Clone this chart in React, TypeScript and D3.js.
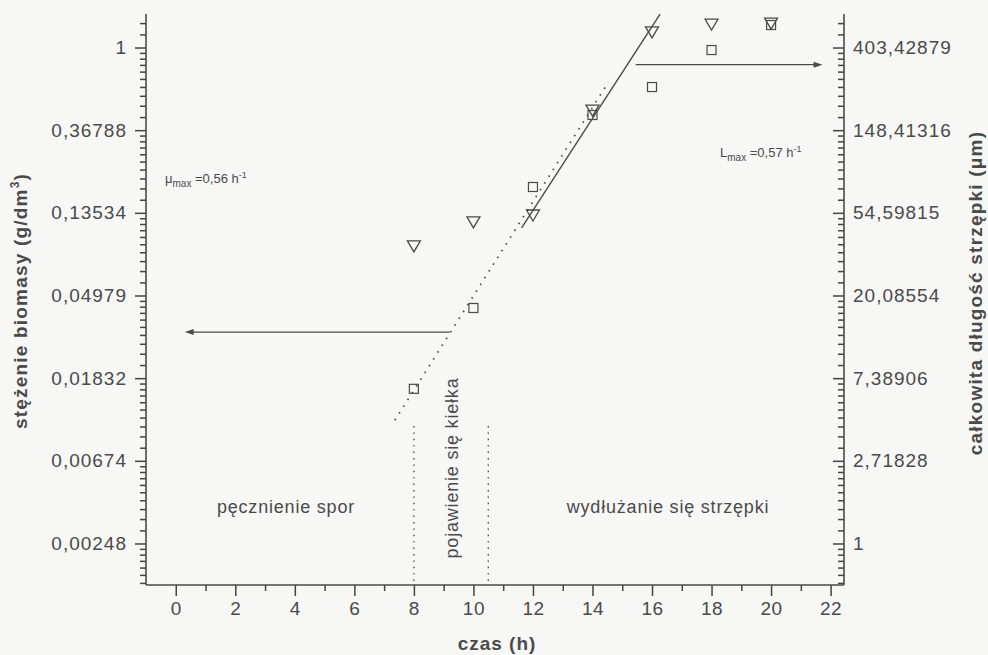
import React, { useRef, useEffect } from 'react';
import * as d3 from 'd3';

// sampling times (h)
const times = [8, 10, 12, 14, 16, 18, 20];
// biomass concentration (g/dm3) - squares, left axis
const biomass = [0.0161, 0.0428, 0.185, 0.442, 0.62, 0.97, 1.313];
// total hypha length (um) - triangles, right axis
const hyphaLength = [36.6, 48.9, 53.2, 189, 487, 536, 542];

// fitted exponential lines
const biomassFitT = [7.36, 14.54];
const biomassFitY = [0.011, 0.659];
const lengthFitT = [11.62, 16.27];
const lengthFitY = [45.5, 605];

// phase borders (h) and their top value
const phaseBorders = [8, 10.5];
const phaseBorderTop = 0.01027;

// arrows: [tStart, tEnd]
const biomassArrowT = [9.2, 0.3];
const biomassArrowY = 0.032;
const lengthArrowT = [15.45, 21.73];
const lengthArrowY = 328;

const xTicks = [0, 2, 4, 6, 8, 10, 12, 14, 16, 18, 20, 22];
const xMinorTicks = [1, 3, 5, 7, 9, 11, 13, 15, 17, 19, 21];
const leftTickPow = [0, -1, -2, -3, -4, -5, -6];
const leftTickLabels = ['1', '0,36788', '0,13534', '0,04979', '0,01832', '0,00674', '0,00248'];
const rightTickPow = [6, 5, 4, 3, 2, 1, 0];
const rightTickLabels = ['403,42879', '148,41316', '54,59815', '20,08554', '7,38906', '2,71828', '1'];

const W = 988;
const H = 655;
const INK = '#4a4a4a';
const FONT = '"Liberation Sans", Arial, sans-serif';

const App = () => {
  const svgRef = useRef<SVGSVGElement>(null);

  useEffect(() => {
    const svg = d3.select(svgRef.current);
    svg.selectAll('*').remove();

    const left = 146, right = 844, top = 14, bottom = 585;

    const x = d3.scaleLinear().domain([-1, 22.45]).range([left, right]);
    const yL = d3.scaleLog().base(Math.E).domain([0.0015, 1.5]).range([bottom, top]);
    const yR = d3.scaleLog().base(Math.E)
      .domain([0.0015 * Math.exp(6), 1.5 * Math.exp(6)]).range([bottom, top]);

    svg.append('rect').attr('width', W).attr('height', H).attr('fill', '#f7f7f6');

    const g = svg.append('g');

    // minor y ticks: linear in value between consecutive powers of e
    const minorL: number[] = [];
    for (let k = -8; k <= 0; k++) {
      const a = Math.exp(k), b = Math.exp(k + 1);
      for (let j = 1; j < 10; j++) {
        const v = a + (j * (b - a)) / 10;
        if (v > 0.0015 && v < 1.5) minorL.push(v);
      }
    }
    const minorR = minorL.map(v => v * Math.exp(6));

    const styleAxis = (sel: any) => {
      sel.select('.domain').remove();
      sel.selectAll('line').attr('stroke', '#444').attr('stroke-width', 1.5);
    };

    // minor ticks as d3 axes without labels
    g.append('g').attr('transform', `translate(${left},0)`)
      .call(d3.axisLeft(yL).tickValues(minorL).tickSize(6).tickFormat(() => ''))
      .call(styleAxis);
    g.append('g').attr('transform', `translate(${right},0)`)
      .call(d3.axisLeft(yR).tickValues(minorR).tickSize(6).tickFormat(() => ''))
      .call(styleAxis);
    g.append('g').attr('transform', `translate(0,${bottom})`)
      .call(d3.axisBottom(x).tickValues(xMinorTicks).tickSize(6).tickFormat(() => ''))
      .call(styleAxis);

    // major ticks with labels
    const ax = g.append('g').attr('transform', `translate(0,${bottom})`)
      .call(d3.axisBottom(x).tickValues(xTicks).tickSize(11).tickPadding(6).tickFormat(d => String(d)))
      .call(styleAxis);
    ax.selectAll('text').attr('font-family', FONT).attr('font-size', 19)
      .attr('letter-spacing', 0.5).attr('fill', INK);

    const al = g.append('g').attr('transform', `translate(${left},0)`)
      .call(d3.axisLeft(yL).tickValues(leftTickPow.map(p => Math.exp(p))).tickSize(11).tickPadding(8)
        .tickFormat((_, i) => leftTickLabels[i]))
      .call(styleAxis);
    al.selectAll('text').attr('font-family', FONT).attr('font-size', 19)
      .attr('letter-spacing', 1).attr('fill', INK);

    const ar = g.append('g').attr('transform', `translate(${right},0)`)
      .call(d3.axisRight(yR).tickValues(rightTickPow.map(p => Math.exp(p))).tickSize(0).tickPadding(9)
        .tickFormat((_, i) => rightTickLabels[i]))
      .call(styleAxis);
    ar.selectAll('text').attr('font-family', FONT).attr('font-size', 19)
      .attr('letter-spacing', 1).attr('fill', INK);
    // right axis major ticks point inwards
    g.append('g').attr('transform', `translate(${right},0)`)
      .call(d3.axisLeft(yR).tickValues(rightTickPow.map(p => Math.exp(p))).tickSize(11).tickFormat(() => ''))
      .call(styleAxis);

    // axis lines
    g.append('line').attr('x1', left).attr('x2', left).attr('y1', top).attr('y2', bottom)
      .attr('stroke', INK).attr('stroke-width', 1.6);
    g.append('line').attr('x1', right).attr('x2', right).attr('y1', top).attr('y2', bottom)
      .attr('stroke', INK).attr('stroke-width', 1.6);
    g.append('line').attr('x1', left).attr('x2', right).attr('y1', bottom).attr('y2', bottom)
      .attr('stroke', INK).attr('stroke-width', 1.6);

    // axis titles
    g.append('text').attr('x', 497).attr('y', 650).attr('text-anchor', 'middle')
      .attr('font-family', FONT).attr('font-size', 19).attr('font-weight', 'bold')
      .attr('letter-spacing', 1).attr('fill', INK).text('czas (h)');

    const lt = g.append('text').attr('transform', 'translate(27,301) rotate(-90)')
      .attr('text-anchor', 'middle').attr('font-family', FONT).attr('font-size', 19)
      .attr('font-weight', 'bold').attr('letter-spacing', 1.2).attr('fill', INK);
    lt.append('tspan').text('stężenie biomasy (g/dm');
    lt.append('tspan').attr('font-size', 12).attr('dy', -8).text('3');
    lt.append('tspan').attr('dy', 8).text(')');

    g.append('text').attr('transform', 'translate(982,293) rotate(-90)')
      .attr('text-anchor', 'middle').attr('font-family', FONT).attr('font-size', 19)
      .attr('font-weight', 'bold').attr('letter-spacing', 1.2).attr('fill', INK)
      .text('całkowita długość strzępki (μm)');

    // phase borders
    phaseBorders.forEach(t => {
      g.append('line').attr('x1', x(t)).attr('x2', x(t))
        .attr('y1', yL(phaseBorderTop)).attr('y2', bottom)
        .attr('stroke', INK).attr('stroke-width', 1.4).attr('stroke-dasharray', '1.4 5');
    });

    // phase labels
    g.append('text').attr('x', 286).attr('y', 513).attr('text-anchor', 'middle')
      .attr('font-family', FONT).attr('font-size', 18).attr('letter-spacing', 0.8)
      .attr('fill', INK).text('pęcznienie spor');
    g.append('text').attr('x', 668).attr('y', 513).attr('text-anchor', 'middle')
      .attr('font-family', FONT).attr('font-size', 18).attr('letter-spacing', 0.8)
      .attr('fill', INK).text('wydłużanie się strzępki');
    g.append('text').attr('transform', 'translate(458,468) rotate(-90)')
      .attr('text-anchor', 'middle').attr('font-family', FONT).attr('font-size', 18)
      .attr('letter-spacing', 0.8).attr('fill', INK).text('pojawienie się kiełka');

    // rate labels
    const mu = g.append('text').attr('x', 165).attr('y', 183)
      .attr('font-family', FONT).attr('font-size', 13).attr('fill', INK);
    mu.append('tspan').text('μ');
    mu.append('tspan').attr('font-size', 10).attr('dy', 4).text('max');
    mu.append('tspan').attr('dy', -4).text(' =0,56 h');
    mu.append('tspan').attr('font-size', 9).attr('dy', -5).text('-1');

    const lm = g.append('text').attr('x', 720).attr('y', 157)
      .attr('font-family', FONT).attr('font-size', 13).attr('fill', INK);
    lm.append('tspan').text('L');
    lm.append('tspan').attr('font-size', 10).attr('dy', 4).text('max');
    lm.append('tspan').attr('dy', -4).text(' =0,57 h');
    lm.append('tspan').attr('font-size', 9).attr('dy', -5).text('-1');

    // fit lines
    const lineL = d3.line<number>().x((_, i) => x(biomassFitT[i])).y(d => yL(d));
    g.append('path').attr('d', lineL(biomassFitY)).attr('fill', 'none')
      .attr('stroke', INK).attr('stroke-width', 1.7).attr('stroke-dasharray', '1.6 6.4');
    const lineR = d3.line<number>().x((_, i) => x(lengthFitT[i])).y(d => yR(d));
    g.append('path').attr('d', lineR(lengthFitY)).attr('fill', 'none')
      .attr('stroke', INK).attr('stroke-width', 1.4);

    // arrows
    const arrow = (t0: number, t1: number, yy: number) => {
      const x0 = x(t0), x1 = x(t1);
      const dir = x1 > x0 ? 1 : -1;
      g.append('line').attr('x1', x0).attr('x2', x1 - dir * 6).attr('y1', yy).attr('y2', yy)
        .attr('stroke', INK).attr('stroke-width', 1.2);
      g.append('path')
        .attr('d', `M${x1},${yy} L${x1 - dir * 9},${yy - 3} L${x1 - dir * 9},${yy + 3} Z`)
        .attr('fill', INK);
    };
    arrow(biomassArrowT[0], biomassArrowT[1], yL(biomassArrowY));
    arrow(lengthArrowT[0], lengthArrowT[1], yR(lengthArrowY));

    // markers
    times.forEach((t, i) => {
      const cx = x(t), cy = yL(biomass[i]);
      g.append('rect').attr('x', cx - 4.5).attr('y', cy - 4.5).attr('width', 9).attr('height', 9)
        .attr('fill', 'none').attr('stroke', INK).attr('stroke-width', 1.2);
    });
    times.forEach((t, i) => {
      const cx = x(t), cy = yR(hyphaLength[i]);
      g.append('path')
        .attr('d', `M${cx - 6.5},${cy - 5} L${cx + 6.5},${cy - 5} L${cx},${cy + 6} Z`)
        .attr('fill', 'none').attr('stroke', INK).attr('stroke-width', 1.3);
    });
  }, []);

  return (
    <svg ref={svgRef} width={W} height={H}
      style={{ position: 'fixed', left: 0, top: 0, display: 'block' }} />
  );
};

export default App;
